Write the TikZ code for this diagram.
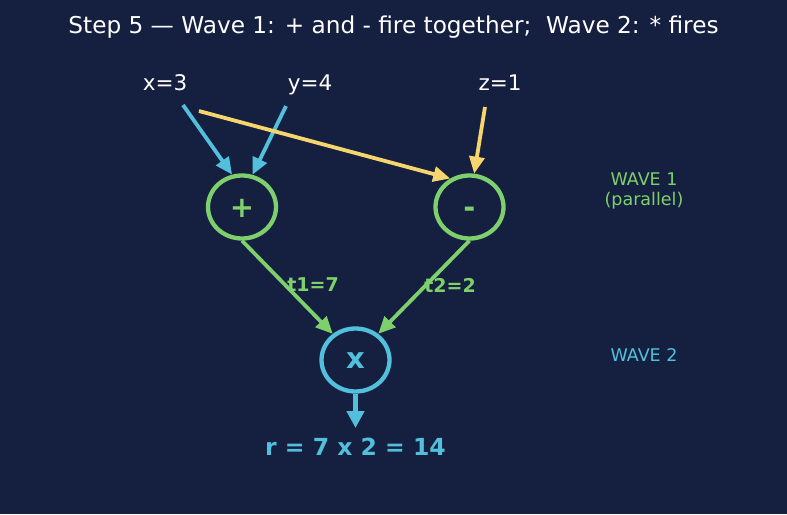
\documentclass[tikz,border=0pt]{standalone}
\usepackage{fontspec}
\setmainfont{DejaVu Sans}
\usetikzlibrary{shapes.geometric,arrows.meta}
\definecolor{bg}{HTML}{152040}
\definecolor{cgreen}{HTML}{7ED06C}
\definecolor{cblue}{HTML}{52C0DC}
\definecolor{cyellow}{HTML}{F5D56C}
\tikzset{
  opnode/.style={ellipse, draw, line width=4.3pt, minimum width=68pt, minimum height=63pt, inner sep=0pt, font=\fontsize{29}{29}\selectfont\bfseries},
  inlabel/.style={text=white, font=\fontsize{21.5}{21.5}\selectfont, anchor=base, inner sep=0pt},
  conn/.style={line width=3.8pt, -{Triangle[length=17pt,width=15pt]}},
  tlabel/.style={text=cgreen, font=\fontsize{19}{19}\selectfont\bfseries},
}
\begin{document}
\begin{tikzpicture}[x=1pt,y=-1pt]
\fill[bg] (0,0) rectangle (787,514);
\useasboundingbox (0,0) rectangle (787,514);
\node[text=white, font=\fontsize{23.2}{23.2}\selectfont, anchor=base, inner sep=0pt] (title) at (393.5,33) {Step 5 — Wave 1: + and - fire together;\ \ Wave 2: * fires};
\node[inlabel] (xl) at (165,90) {x=3};
\node[inlabel] (yl) at (310,90) {y=4};
\node[inlabel] (zl) at (500,90) {z=1};
\coordinate (xa) at (183,105);
\coordinate (xb) at (199,111);
\coordinate (ya) at (286,106);
\coordinate (za) at (485,107);
\node[opnode, draw=cgreen, text=cgreen] (plus) at (242,207) {\raisebox{-10pt}[0pt][0pt]{+}};
\node[opnode, draw=cgreen, text=cgreen] (minus) at (469.5,207) {\raisebox{-10pt}[0pt][0pt]{-}};
\node[opnode, draw=cblue, text=cblue] (times) at (355.5,360) {\raisebox{-8.5pt}[0pt][0pt]{x}};
\draw[conn, cblue] (xa) -- (plus.107);
\draw[conn, cblue] (ya) -- (plus.72);
\draw[conn, cyellow] (xb) -- (minus.124);
\draw[conn, cyellow] (za) -- (minus.82);
\draw[conn, cgreen] (plus.south) -- (times.131);
\draw[conn, cgreen] (minus.south) -- (times.49);
\node[tlabel] (t1) at (313,285) {t1=7};
\node[tlabel] (t2) at (450,285) {t2=2};
\node[text=cblue, font=\fontsize{23.5}{23.5}\selectfont\bfseries, anchor=base, inner sep=0pt] (res) at (355.5,455) {r = 7 x 2 = 14};
\coordinate (resin) at (355.5,428);
\draw[line width=4.3pt, cblue, -{Triangle[length=17pt,width=17pt]}] (times.south) -- (resin);
\node[text=cgreen, font=\fontsize{17.5}{20}\selectfont, align=center] (w1) at (644,191) {WAVE 1\\(parallel)};
\node[text=cblue, font=\fontsize{17.5}{17.5}\selectfont] (w2) at (644,355) {WAVE 2};
\end{tikzpicture}
\end{document}
